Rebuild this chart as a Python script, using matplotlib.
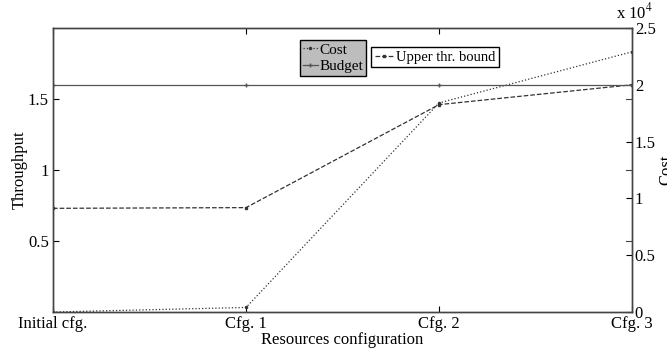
import numpy as np
import matplotlib.pyplot as plt

plt.rcParams['font.family'] = ['Liberation Serif', 'DejaVu Serif']
plt.rcParams['mathtext.fontset'] = 'stix'

configs = ['Initial cfg.', 'Cfg. 1', 'Cfg. 2', 'Cfg. 3']
upper_bound = [0.73, 0.735, 1.46, 1.6]      # throughput
cost = [0, 400, 18400, 22900]               # cost
budget = [20000, 20000, 20000, 20000]

x = np.arange(len(configs))

fig = plt.figure(figsize=(6.67, 3.52), dpi=100)
ax = fig.add_axes([0.0795, 0.1136, 0.868, 0.807])
ax2 = ax.twinx()

lu, = ax.plot(x, upper_bound, '--', color='#333333', marker='s', ms=2, lw=0.9,
              label='Upper thr. bound')
lc, = ax2.plot(x, cost, ':', color='#333333', marker='.', ms=3, lw=0.9, label='Cost')
lb, = ax2.plot(x, budget, '-', color='#555555', marker='+', ms=3, lw=0.9, label='Budget')

ax.set_xlim(0, 3)
ax.set_ylim(0, 2)
ax2.set_ylim(0, 25000)
ax.set_xticks(x)
ax.set_xticklabels(configs)
ax.set_yticks([0.5, 1, 1.5])
ax.set_yticklabels(['0.5', '1', '1.5'])
ax2.set_yticks([0, 5000, 10000, 15000, 20000, 25000])
ax2.set_yticklabels(['0', '0.5', '1', '1.5', '2', '2.5'])

ax.tick_params(direction='in', labelsize=12, length=4, top=True, right=False, pad=3)
ax2.tick_params(direction='in', labelsize=12, length=4, pad=2)
for a in (ax, ax2):
    for s in a.spines.values():
        s.set_color('#444444')
        s.set_linewidth(1.0)

# mirror of the left ticks on the right edge
for t in [0.5, 1, 1.5]:
    ax.plot([3, 2.97], [t, t], color='#444444', lw=0.8, clip_on=False)

ax.set_ylabel('Throughput', fontsize=12, labelpad=0)
ax2.set_ylabel('Cost', fontsize=12, labelpad=2)
ax.set_xlabel('Resources configuration', fontsize=12, labelpad=0)
ax2.text(1.005, 1.02, r'x 10$^4$', transform=ax2.transAxes, fontsize=12,
         ha='center', va='bottom')

leg1 = ax2.legend(handles=[lc, lb], loc='upper left', bbox_to_anchor=(0.426, 0.958),
                  fontsize=11, frameon=True, fancybox=False, handlelength=1.0,
                  handletextpad=0.1, borderpad=0.2, labelspacing=0.2, borderaxespad=0)
leg1.get_frame().set_facecolor('#bdbdbd')
leg1.get_frame().set_edgecolor('black')
leg1.get_frame().set_alpha(1)
ax2.add_artist(leg1)
leg2 = ax2.legend(handles=[lu], loc='upper left', bbox_to_anchor=(0.549, 0.933),
                  fontsize=10.5, frameon=True, fancybox=False, handlelength=1.3,
                  handletextpad=0.2, borderpad=0.25, borderaxespad=0)
leg2.get_frame().set_edgecolor('black')
leg2.get_frame().set_alpha(1)

fig.savefig('out.png', dpi=100)
